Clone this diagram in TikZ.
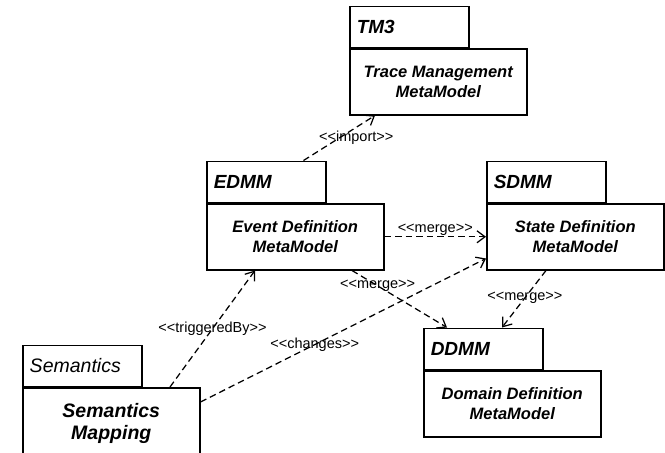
\documentclass[tikz,border=0pt]{standalone}
\usepackage{fontspec}
\setmainfont{Liberation Sans}
\usepackage{tikz}
\usetikzlibrary{positioning,arrows.meta}
\newcommand{\stlabel}[1]{<{}<#1>{}>}
\tikzset{
pkgtab/.style = {draw, line width=1.5pt, anchor=south west, minimum width=119pt, minimum height=41pt, text width=105pt, inner xsep=7pt, align=left, font=\bfseries\itshape\fontsize{19}{20}\selectfont},
pkgbody/.style = {draw, line width=1.5pt, anchor=north west, minimum width=177pt, minimum height=66pt, align=center, font=\bfseries\itshape\fontsize{16.5}{19.5}\selectfont},
dep/.style = {dashed, dash pattern=on 6.5pt off 4pt, line width=1.25pt, -{Straight Barb[length=8pt,width=12pt]}},
deplabel/.style = {font=\fontsize{14.5}{15}\selectfont, inner sep=1pt}
}
\begin{document}
\begin{tikzpicture}[x=1pt, y=-1pt]
      \useasboundingbox (0,0) rectangle (665,453);
      \clip (0,0) rectangle (665,453);
      % packages
      \node [pkgbody] (tm3) at (349,48) {Trace Management\\MetaModel};
      \node [pkgtab] (tm3tab) at (tm3.north west) {TM3};
      \node [pkgbody] (edmm) at (206,203) {Event Definition\\MetaModel};
      \node [pkgtab] (edmmtab) at (edmm.north west) {EDMM};
      \node [pkgbody] (sdmm) at (486,203) {State Definition\\MetaModel};
      \node [pkgtab] (sdmmtab) at (sdmm.north west) {SDMM};
      \node [pkgbody] (ddmm) at (423,370) {Domain Definition\\MetaModel};
      \node [pkgtab] (ddmmtab) at (ddmm.north west) {DDMM};
      \node [pkgbody, minimum height=72pt, font=\bfseries\itshape\fontsize{19.5}{22}\selectfont] (sem) at (22,387) {Semantics\\Mapping};
      \node [pkgtab, font=\itshape\fontsize{19.5}{20}\selectfont] (semtab) at (sem.north west) {Semantics};
      % dependencies
      \draw [dep] ([xshift=-23pt]edmmtab.north east) -- node [deplabel, pos=0.5, xshift=17pt] {\stlabel{import}} ([xshift=26pt]tm3.south west);
      \draw [dep] (edmm.east) -- node [deplabel, above] {\stlabel{merge}} (sdmm.west);
      \draw [dep] ([xshift=146pt]edmm.south west) -- node [deplabel, pos=0.27] {\stlabel{merge}} ([xshift=24pt]ddmmtab.north west);
      \draw [dep] ([xshift=60pt]sdmm.south west) -- node [deplabel, pos=0.48] {\stlabel{merge}} ([xshift=79pt]ddmmtab.north west);
      \draw [dep] ([xshift=148pt]sem.north west) -- node [deplabel, pos=0.5] {\stlabel{triggeredBy}} ([xshift=49pt]edmm.south west);
      \draw [dep] ([yshift=-15pt]sem.north east) -- node [deplabel, pos=0.4] {\stlabel{changes}} ([yshift=12pt]sdmm.south west);
\end{tikzpicture}
\end{document}
